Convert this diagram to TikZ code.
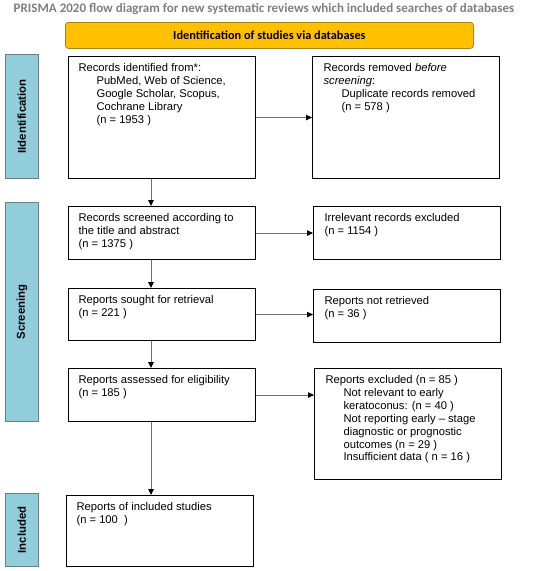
\documentclass[tikz,border=0pt]{standalone}
\usepackage{fontspec}
\setmainfont{Liberation Sans}
\newfontfamily\calfont{Carlito}
\usetikzlibrary{arrows.meta}
\definecolor{titlegray}{HTML}{7F7F7F}
\definecolor{yelfill}{HTML}{FFC000}
\definecolor{yelborder}{HTML}{A88414}
\definecolor{bluefill}{HTML}{92CDDC}
\definecolor{blueborder}{HTML}{6A7F86}
\definecolor{arrowgray}{HTML}{707070}
\newcommand{\bxt}[3]{\begin{minipage}[c][#2][t]{#1}\raggedright\rule{0pt}{15pt}#3\end{minipage}}
\newcommand{\ind}{\hspace*{18pt}}
\tikzset{
  flowbox/.style={draw=black, line width=1.1pt, inner xsep=10pt, inner ysep=0pt, anchor=north west,
    font=\fontsize{11.2}{12.9}\selectfont},
  sidelabel/.style={draw=blueborder, fill=bluefill, line width=0.8pt, anchor=north west, inner sep=0pt},
  sidetext/.style={rotate=90, font=\fontsize{11.4}{13}\selectfont\bfseries},
  flowarrow/.style={draw=arrowgray, line width=0.9pt, -{Triangle[length=6pt,width=5.5pt,color=black]}}
}
\begin{document}
\begin{tikzpicture}[x=1pt,y=-1pt]
\useasboundingbox (0,0) rectangle (550,571);
\node[anchor=base, text=titlegray, font=\calfont\fontsize{13}{15}\selectfont\bfseries] (title) at (264,12.5) {PRISMA 2020 flow diagram for new systematic reviews which included searches of databases};
\node[draw=yelborder, fill=yelfill, line width=0.8pt, rounded corners=3pt, anchor=north west,
  minimum width=408pt, minimum height=26pt, inner sep=0pt, font=\calfont\fontsize{12.3}{14}\selectfont\bfseries] (head) at (65,22) {Identification of studies via databases};
% side labels
\node[sidelabel, minimum width=33pt, minimum height=124pt] (sid) at (5,54) {};
\node[sidetext] (sidt) at (sid.center) {IIdentification};
\node[sidelabel, minimum width=33pt, minimum height=219pt] (sscr) at (5,202) {};
\node[sidetext] (sscrt) at (sscr.center) {Screening};
\node[sidelabel, minimum width=33pt, minimum height=73pt] (sinc) at (5,493) {};
\node[sidetext] (sinct) at (sinc.center) {Included};
% left column
\node[flowbox] (b1) at (68,56) {\bxt{167pt}{122pt}{Records identified from*:\\\ind PubMed, Web of Science,\\\ind Google Scholar, Scopus,\\\ind Cochrane Library\\\ind (n = 1953 )}};
\node[flowbox] (b2) at (68,206) {\bxt{167pt}{53pt}{Records screened according to\\the title and abstract\\(n = 1375 )}};
\node[flowbox] (b3) at (68,288) {\bxt{167pt}{52pt}{Reports sought for retrieval\\(n = 221 )}};
\node[flowbox] (b4) at (68,368) {\bxt{167pt}{53pt}{Reports assessed for eligibility\\(n = 185 )}};
\node[flowbox] (b5) at (66,495) {\bxt{167pt}{71pt}{Reports of included studies\\(n = 100\ \ )}};
% right column
\node[flowbox, inner xsep=11pt] (r1) at (312,56) {\bxt{165pt}{122pt}{Records removed \textit{before}\\\textit{screening}:\\\ind Duplicate records removed\\\ind (n = 578 )}};
\node[flowbox, inner xsep=11pt] (r2) at (313,206) {\bxt{165pt}{53pt}{Irrelevant records excluded\\(n = 1154 )}};
\node[flowbox, inner xsep=11pt] (r3) at (313,289) {\bxt{165pt}{53pt}{Reports not retrieved\\(n = 36 )}};
\node[flowbox, inner xsep=11pt] (r4) at (314,368) {\bxt{165pt}{111pt}{Reports excluded (n = 85 )\\\ind Not relevant to early\\\ind keratoconus: (n = 40 )\\\ind Not reporting early -- stage\\\ind diagnostic or prognostic\\\ind outcomes (n = 29 )\\\ind Insufficient data ( n = 16 )}};
% arrows
\coordinate (ax) at (151,0);
\draw[flowarrow] (b1.south -| ax) -- (b2.north -| ax);
\draw[flowarrow] (b2.south -| ax) -- (b3.north -| ax);
\draw[flowarrow] (b3.south -| ax) -- (b4.north -| ax);
\draw[flowarrow] (b4.south -| ax) -- (b5.north -| ax);
\draw[flowarrow] (b1.east) -- (b1.east -| r1.west);
\draw[flowarrow] (b2.east) -- (b2.east -| r2.west);
\draw[flowarrow] (b3.east) -- (b3.east -| r3.west);
\draw[flowarrow] (b4.east) -- (b4.east -| r4.west);
\end{tikzpicture}
\end{document}
